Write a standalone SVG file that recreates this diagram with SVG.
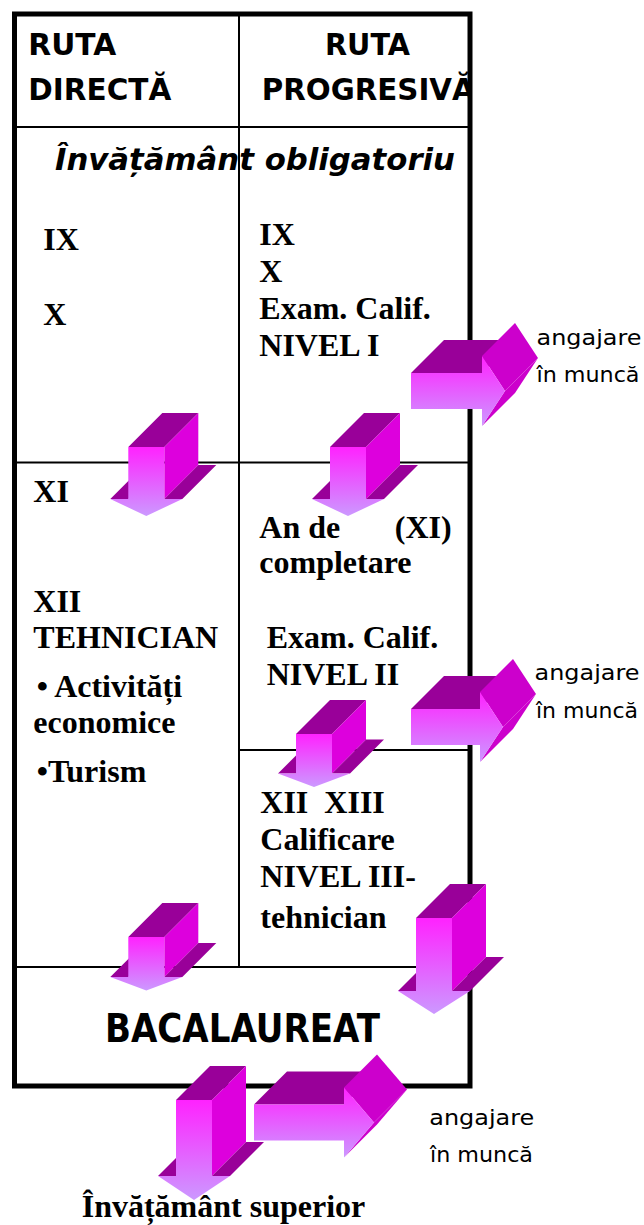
<svg xmlns="http://www.w3.org/2000/svg" width="644" height="1225" viewBox="0 0 644 1225">
  <defs>
    <linearGradient id="frontGrad" x1="0" y1="0" x2="0" y2="1">
      <stop offset="0" stop-color="#FF22FF"/>
      <stop offset="1" stop-color="#CC99FF"/>
    </linearGradient>
    <clipPath id="clipRight">
      <rect x="240" y="14" width="229" height="113"/>
    </clipPath>
    <style>
      .thin { stroke: #000; stroke-width: 2; fill: none; }
      .frame { stroke: #000; stroke-width: 5; fill: none; }
      .hdr { font-family: "DejaVu Sans", "Liberation Sans", sans-serif; font-weight: bold; font-size: 30px; fill: #000; }
      .big { font-family: "DejaVu Sans", "Liberation Sans", sans-serif; font-weight: bold; fill: #000; }
      .tr { font-family: "Liberation Serif", "Times New Roman", serif; font-weight: bold; font-size: 32px; fill: #000; }
      .lbl { font-family: "DejaVu Sans", "Liberation Sans", sans-serif; font-size: 22px; fill: #000; }
      .dark { fill: #990099; }
      .side { fill: #DD00DD; }
      .head { fill: #CC00CC; }
      .front { fill: url(#frontGrad); }
    </style>
  </defs>

  <rect x="0" y="0" width="644" height="1225" fill="#FFFFFF"/>

  <g id="table-grid">
    <line class="thin" x1="239" y1="14" x2="239" y2="967"/>
    <line class="thin" x1="14" y1="127" x2="470" y2="127"/>
    <line class="thin" x1="14" y1="462.5" x2="470" y2="462.5"/>
    <line class="thin" x1="239" y1="750" x2="470" y2="750"/>
    <line class="thin" x1="14" y1="967" x2="470" y2="967"/>
  </g>

  <g id="node-header-directa">
    <text class="hdr" x="28.3" y="55" textLength="88" lengthAdjust="spacingAndGlyphs">RUTA</text>
    <text class="hdr" x="28.3" y="100" textLength="143" lengthAdjust="spacingAndGlyphs">DIRECTĂ</text>
  </g>

  <g id="node-header-progresiva" clip-path="url(#clipRight)">
    <text class="hdr" x="325" y="55" textLength="85" lengthAdjust="spacingAndGlyphs">RUTA</text>
    <text class="hdr" x="261.7" y="100" textLength="213" lengthAdjust="spacingAndGlyphs">PROGRESIVĂ</text>
  </g>

  <g id="node-obligatoriu">
    <text class="big" x="55" y="170" font-size="31" font-style="italic" textLength="400" lengthAdjust="spacingAndGlyphs">Învățământ obligatoriu</text>
  </g>

  <g id="node-direct-ix-x">
    <text class="tr" x="43.3" y="250">IX</text>
    <text class="tr" x="43.3" y="325">X</text>
  </g>

  <g id="node-prog-ix-x">
    <text class="tr" x="259.3" y="245">IX</text>
    <text class="tr" x="259.3" y="282">X</text>
    <text class="tr" x="259.3" y="318.5">Exam. Calif.</text>
    <text class="tr" x="259.3" y="356">NIVEL I</text>
  </g>

  <g id="node-direct-xi-xii">
    <text class="tr" x="33.3" y="501.7">XI</text>
    <text class="tr" x="33.3" y="611.7">XII</text>
    <text class="tr" x="33.3" y="648.3">TEHNICIAN</text>
    <text class="tr" x="36.7" y="696.7">• Activități</text>
    <text class="tr" x="33.3" y="733.3">economice</text>
    <text class="tr" x="36.7" y="781.7">•Turism</text>
  </g>

  <g id="node-prog-xi">
    <text class="tr" x="259.3" y="538.3">An de</text>
    <text class="tr" x="451.7" y="538.3" text-anchor="end">(XI)</text>
    <text class="tr" x="259.3" y="573.3">completare</text>
    <text class="tr" x="266.7" y="648.3">Exam. Calif.</text>
    <text class="tr" x="266.7" y="685">NIVEL II</text>
  </g>

  <g id="node-prog-xii-xiii">
    <text class="tr" x="260.3" y="813.3" xml:space="preserve">XII  XIII</text>
    <text class="tr" x="260.3" y="850">Calificare</text>
    <text class="tr" x="260.3" y="886.5">NIVEL III-</text>
    <text class="tr" x="260.3" y="927.5" font-size="37">tehnician</text>
  </g>

  <g id="node-bacalaureat">
    <text class="big" x="105" y="1042" font-size="39" textLength="275" lengthAdjust="spacingAndGlyphs">BACALAUREAT</text>
  </g>

  <g id="frame">
    <rect class="frame" x="14.5" y="14" width="455.5" height="1072"/>
  </g>

  <g id="node-angajare-1">
    <text class="lbl" x="536.5" y="345" textLength="105" lengthAdjust="spacingAndGlyphs">angajare</text>
    <text class="lbl" x="536.5" y="381.7" textLength="103" lengthAdjust="spacingAndGlyphs">în muncă</text>
  </g>
  <g id="node-angajare-2">
    <text class="lbl" x="534.5" y="680" textLength="105" lengthAdjust="spacingAndGlyphs">angajare</text>
    <text class="lbl" x="536" y="718.3" textLength="102" lengthAdjust="spacingAndGlyphs">în muncă</text>
  </g>
  <g id="node-angajare-3">
    <text class="lbl" x="429.3" y="1125" textLength="105" lengthAdjust="spacingAndGlyphs">angajare</text>
    <text class="lbl" x="430" y="1161.7" textLength="103" lengthAdjust="spacingAndGlyphs">în muncă</text>
  </g>

  <g id="node-superior">
    <text class="tr" x="81.7" y="1217">Învățământ superior</text>
  </g>

  <g id="connectors">
    <!-- down arrow 1 -->
    <g transform="translate(128.3,447)">
      <polygon class="dark" points="-18,52 0,52 34,18 16,18"/>
      <polygon class="dark" points="0,0 36,0 70,-34 34,-34"/>
      <polygon class="side" points="36,0 70,-34 70,18 36,52"/>
      <polygon class="dark" points="36,52 54,52 88,18 70,18"/>
      <polygon class="front" points="0,0 36,0 36,52 54,52 18,69 -18,52 0,52"/>
    </g>
    <!-- down arrow 2 -->
    <g transform="translate(330,447)">
      <polygon class="dark" points="-18,52 0,52 34,18 16,18"/>
      <polygon class="dark" points="0,0 36,0 70,-34 34,-34"/>
      <polygon class="side" points="36,0 70,-34 70,18 36,52"/>
      <polygon class="dark" points="36,52 54,52 88,18 70,18"/>
      <polygon class="front" points="0,0 36,0 36,52 54,52 18,69 -18,52 0,52"/>
    </g>
    <!-- right arrow 1 -->
    <g transform="translate(411,373)">
      <polygon class="dark" points="0,0 71,0 104,-33 33,-33"/>
      <polygon class="head" points="71,-17 104,-50 127,-15 94,18"/>
      <polygon class="head" points="94,18 127,-15 104,20 71,53"/>
      <polygon class="front" points="0,0 71,0 71,-17 94,18 71,53 71,36 0,36"/>
    </g>
    <!-- right arrow 2 -->
    <g transform="translate(411,709)">
      <polygon class="dark" points="0,0 69,0 102,-33 33,-33"/>
      <polygon class="head" points="69,-17 102,-50 125,-15 92,18"/>
      <polygon class="head" points="92,18 125,-15 102,20 69,53"/>
      <polygon class="front" points="0,0 69,0 69,-17 92,18 69,53 69,36 0,36"/>
    </g>
    <!-- down arrow 3 -->
    <g transform="translate(296,734)">
      <polygon class="dark" points="-18,39.5 0,39.5 34,5.5 16,5.5"/>
      <polygon class="dark" points="0,0 36,0 70,-34 34,-34"/>
      <polygon class="side" points="36,0 70,-34 70,5.5 36,39.5"/>
      <polygon class="dark" points="36,39.5 54,39.5 88,5.5 70,5.5"/>
      <polygon class="front" points="0,0 36,0 36,39.5 54,39.5 18,53 -18,39.5 0,39.5"/>
    </g>
    <!-- down arrow 4 -->
    <g transform="translate(128.3,937)">
      <polygon class="dark" points="-18,40 0,40 34,6 16,6"/>
      <polygon class="dark" points="0,0 36,0 70,-34 34,-34"/>
      <polygon class="side" points="36,0 70,-34 70,6 36,40"/>
      <polygon class="dark" points="36,40 54,40 88,6 70,6"/>
      <polygon class="front" points="0,0 36,0 36,40 54,40 18,53.5 -18,40 0,40"/>
    </g>
    <!-- down arrow 5 -->
    <g transform="translate(416,918)">
      <polygon class="dark" points="-18,73 0,73 34,39 16,39"/>
      <polygon class="dark" points="0,0 36,0 70,-34 34,-34"/>
      <polygon class="side" points="36,0 70,-34 70,39 36,73"/>
      <polygon class="dark" points="36,73 54,73 88,39 70,39"/>
      <polygon class="front" points="0,0 36,0 36,73 54,73 18,96 -18,73 0,73"/>
    </g>
    <!-- down arrow 6 -->
    <g transform="translate(176,1100)">
      <polygon class="dark" points="-18,76 0,76 34,42 16,42"/>
      <polygon class="dark" points="0,0 36,0 70,-34 34,-34"/>
      <polygon class="side" points="36,0 70,-34 70,42 36,76"/>
      <polygon class="dark" points="36,76 54,76 88,42 70,42"/>
      <polygon class="front" points="0,0 36,0 36,76 54,76 18,100 -18,76 0,76"/>
    </g>
    <!-- right arrow 3 -->
    <g transform="translate(254,1104.5)">
      <polygon class="dark" points="0,0 90,0 123,-33 33,-33"/>
      <polygon class="head" points="90,-17 123,-50 153,-15 120,18"/>
      <polygon class="head" points="120,18 153,-15 123,20 90,53"/>
      <polygon class="front" points="0,0 90,0 90,-17 120,18 90,53 90,36 0,36"/>
    </g>
  </g>
</svg>
